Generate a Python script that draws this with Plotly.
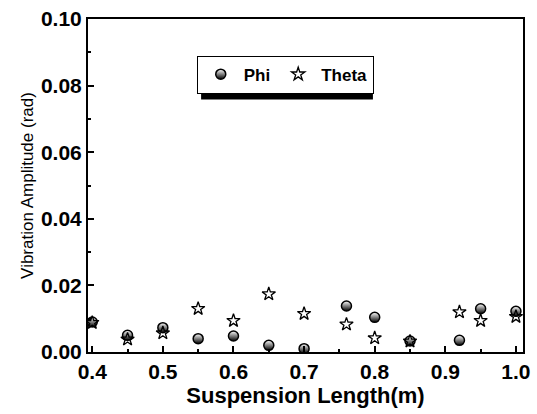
import plotly.graph_objects as go

x_vals = [0.40, 0.45, 0.50, 0.55, 0.60, 0.65, 0.70, 0.76, 0.80, 0.85, 0.92, 0.95, 1.00]
phi = [0.0090, 0.0050, 0.0073, 0.0040, 0.0048, 0.0020, 0.0010, 0.0138, 0.0104, 0.0033, 0.0035, 0.0130, 0.0122]
theta = [0.0088, 0.0038, 0.0057, 0.0130, 0.0094, 0.0174, 0.0115, 0.0083, 0.0042, 0.0032, 0.0120, 0.0094, 0.0106]
x_ticks = [0.4, 0.5, 0.6, 0.7, 0.8, 0.9, 1.0]
y_ticks = [0.00, 0.02, 0.04, 0.06, 0.08, 0.10]

FONT = "Liberation Sans, Arial"

fig = go.Figure()
fig.add_trace(go.Scatter(
    x=x_vals, y=phi, mode="markers", name="<b>Phi</b>",
    marker=dict(symbol="circle", size=10, color="white",
                gradient=dict(type="vertical", color="black"),
                line=dict(color="black", width=1.5)),
))
fig.add_trace(go.Scatter(
    x=x_vals, y=theta, mode="markers", name="<b>Theta</b>",
    marker=dict(symbol="star-open", size=10, color="black",
                line=dict(color="black", width=1.3)),
))

# legend shadow (offset box behind the legend)
fig.add_shape(type="rect", xref="paper", yref="paper",
              x0=0.26, x1=0.655, y0=0.758, y1=0.87,
              fillcolor="black", line=dict(width=0), layer="below")

axis_common = dict(
    showline=True, linecolor="black", linewidth=2, mirror=True,
    ticks="inside", ticklen=6, tickwidth=2, tickcolor="black",
    showgrid=False, zeroline=False,
    tickfont=dict(family=FONT, size=21, color="black"),
)

fig.update_layout(
    width=537, height=414,
    margin=dict(l=88, r=7, t=17, b=62),
    paper_bgcolor="white", plot_bgcolor="rgba(0,0,0,0)",
    xaxis=dict(range=[0.394, 1.01], tickmode="array", tickvals=x_ticks,
               ticktext=["<b>%.1f</b>" % v for v in x_ticks],
               minor=dict(ticks="inside", ticklen=3, tickwidth=1.5, tickcolor="black", dtick=0.05),
               title=dict(text="<b>Suspension Length(m)</b>", standoff=2,
                          font=dict(family=FONT, size=22, color="black")),
               **axis_common),
    yaxis=dict(range=[0, 0.1], tickmode="array", tickvals=y_ticks,
               ticktext=["<b>%.2f</b>" % v for v in y_ticks],
               minor=dict(ticks="inside", ticklen=3, tickwidth=1.5, tickcolor="black", dtick=0.01),
               title=dict(text="Vibration Amplitude (rad)", standoff=3,
                          font=dict(family=FONT, size=17, color="black")),
               **axis_common),
    legend=dict(orientation="h", x=0.25, y=0.89, xanchor="left", yanchor="top",
                bgcolor="white", bordercolor="black", borderwidth=1,
                font=dict(family=FONT, size=17, color="black"),
                itemwidth=36),
    showlegend=True,
)

fig.write_html("out.html")
